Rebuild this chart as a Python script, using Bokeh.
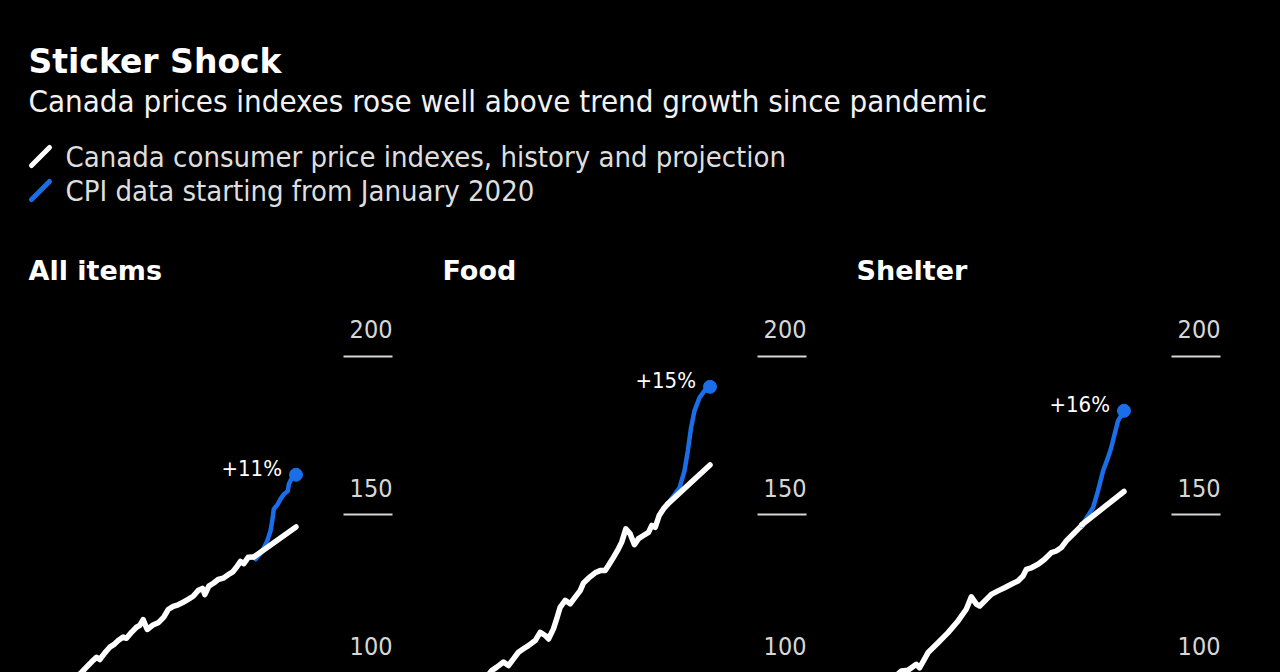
from bokeh.plotting import figure
from bokeh.models import Range1d, Label, FixedTicker
from bokeh.layouts import column, row
from bokeh.embed import file_html
from bokeh.resources import INLINE

# ---------------- data ----------------
TITLE = "Sticker Shock"
SUBTITLE = "Canada prices indexes rose well above trend growth since pandemic"
LEGEND_LABELS = ["Canada consumer price indexes, history and projection",
                 "CPI data starting from January 2020"]
CATEGORIES = ["All items", "Food", "Shelter"]
TICKS = [100, 150, 200]
GAP_LABELS = ["+11%", "+15%", "+16%"]

all_hist_year = [2001.8, 2002.23, 2002.75, 2003.26, 2003.78, 2004.12, 2004.64, 2005.15, 2005.56, 2006.02,
                 2006.53, 2006.87, 2007.39, 2007.90, 2008.24, 2008.59, 2009.01, 2009.55, 2010.14, 2010.72,
                 2011.17, 2011.69, 2012.20, 2012.72, 2013.23, 2013.75, 2014.26, 2014.71, 2014.95, 2015.36,
                 2015.87, 2016.33, 2016.84, 2017.36, 2017.80, 2018.29, 2018.63, 2018.97, 2019.42, 2020.0]
all_hist_val = [99.0, 100.1, 101.8, 103.4, 104.9, 104.2, 106.3, 108.1, 108.9, 110.2,
                111.3, 110.9, 112.8, 114.4, 115.0, 116.8, 113.7, 115.0, 115.8, 117.6,
                120.0, 121.0, 121.5, 122.3, 123.2, 124.2, 126.0, 126.7, 124.7, 127.4,
                128.4, 129.5, 129.9, 131.0, 131.8, 133.7, 135.2, 134.5, 136.5, 136.6]
all_cpi_year = [2020.0, 2020.18, 2020.87, 2021.38, 2021.72, 2021.90, 2022.06, 2022.47, 2022.75,
                2023.09, 2023.51, 2023.61, 2023.86, 2024.35]
all_cpi_val = [136.6, 135.9, 138.5, 141.7, 144.8, 148.0, 151.7, 153.3, 154.9,
               156.4, 157.5, 159.6, 161.2, 162.6]
all_trend_year = [2020.0, 2024.35]
all_trend_val = [136.6, 146.1]

food_hist_year = [2001.5, 2001.85, 2002.37, 2003.06, 2003.57, 2004.09, 2004.60, 2005.12, 2005.63, 2006.33,
                  2006.84, 2007.36, 2007.70, 2008.21, 2008.55, 2008.90, 2009.42, 2009.93, 2010.45, 2010.97,
                  2011.31, 2011.82, 2012.51, 2013.03, 2013.54, 2013.88, 2014.40, 2014.91, 2015.25, 2015.67,
                  2016.12, 2016.56, 2016.98, 2017.49, 2018.01, 2018.35, 2018.70, 2019.11, 2019.55, 2020.0]
food_hist_val = [99.4, 100.7, 101.8, 103.4, 102.3, 104.4, 106.5, 107.6, 108.6, 110.2,
                 112.8, 111.8, 110.7, 113.9, 117.1, 120.7, 122.9, 121.8, 123.9, 126.0,
                 128.4, 129.9, 131.6, 132.3, 132.3, 133.9, 136.5, 139.2, 141.3, 145.5,
                 143.9, 140.5, 142.4, 143.4, 144.4, 146.6, 146.0, 149.7, 151.8, 153.4]
food_cpi_year = [2020.0, 2021.21, 2021.72, 2022.06, 2022.40, 2022.75, 2023.27, 2023.78, 2024.35]
food_cpi_val = [153.4, 158.5, 163.8, 170.1, 177.5, 182.8, 187.0, 189.1, 190.4]
food_trend_year = [2020.0, 2024.35]
food_trend_val = [153.4, 165.7]

shelter_hist_year = [2001.0, 2001.39, 2002.08, 2002.94, 2003.28, 2004.15, 2005.18, 2006.21, 2007.24, 2008.09,
                     2008.61, 2009.13, 2009.47, 2010.16, 2010.67, 2011.36, 2012.04, 2012.73, 2013.42, 2013.94,
                     2014.28, 2014.80, 2015.49, 2016.17, 2016.86, 2017.37, 2017.89, 2018.40, 2019.09, 2019.77,
                     2020.0]
shelter_hist_val = [99.5, 100.6, 100.8, 102.7, 101.6, 106.4, 109.5, 112.7, 116.4, 120.1,
                    124.0, 121.7, 121.1, 123.2, 124.8, 125.9, 126.9, 128.0, 129.0, 130.6,
                    132.7, 133.2, 134.3, 135.9, 138.0, 138.5, 139.6, 141.7, 143.8, 145.9,
                    146.5]
shelter_cpi_year = [2020.0, 2021.16, 2021.67, 2022.19, 2022.70, 2023.04, 2023.38, 2023.73, 2024.35]
shelter_cpi_val = [146.5, 152.2, 157.5, 163.8, 168.0, 171.2, 175.4, 179.6, 182.8]
shelter_trend_year = [2020.0, 2024.35]
shelter_trend_val = [146.8, 157.3]

# ---------------- style ----------------
BG = "#000000"
WHITE = "#ffffff"
BLUE = "#1a6fe8"
GREY = "#d6d6d6"
FONT = "DejaVu Sans Condensed"
BOLD = "DejaVu Sans"
BLACK_STYLE = {"background-color": BG}

X0, X1 = 1996.77, 2034.30
Y0, Y1 = 100.1, 217.67

# ---------------- header ----------------
header = figure(width=1280, height=300, x_range=Range1d(0, 1280), y_range=Range1d(300, 0),
                output_backend="svg", toolbar_location=None,
                x_axis_location=None, y_axis_location=None, min_border=0,
                background_fill_color=BG, border_fill_color=BG, outline_line_color=None,
                styles=BLACK_STYLE)
header.grid.visible = False

header.add_layout(Label(x=28, y=61, text=TITLE, text_font=BOLD, text_font_style="bold",
                        text_font_size="33px", text_color=WHITE, text_baseline="middle"))
header.add_layout(Label(x=28, y=100, text=SUBTITLE, text_font=FONT, text_font_size="31px",
                        text_color="#f2f2f2", text_baseline="middle"))
for i, (lab, col) in enumerate(zip(LEGEND_LABELS, [WHITE, BLUE])):
    yc = 156 + 34 * i
    header.segment(x0=[31], y0=[yc + 9], x1=[49], y1=[yc - 9], line_color=col,
                   line_width=5, line_cap="round")
    header.add_layout(Label(x=65, y=yc, text=lab, text_font=FONT, text_font_size="29px",
                            text_color="#dedede", text_baseline="middle"))
for i, cat in enumerate(CATEGORIES):
    header.add_layout(Label(x=28 + 414 * i, y=270, text=cat, text_font=BOLD, text_font_style="bold",
                            text_font_size="27px", text_color=WHITE, text_baseline="middle"))

# ---------------- panels ----------------
panels_data = [
    (all_hist_year, all_hist_val, all_cpi_year, all_cpi_val, all_trend_year, all_trend_val),
    (food_hist_year, food_hist_val, food_cpi_year, food_cpi_val, food_trend_year, food_trend_val),
    (shelter_hist_year, shelter_hist_val, shelter_cpi_year, shelter_cpi_val, shelter_trend_year, shelter_trend_val),
]

panels = []
for i, (hx, hy, cx, cy, tx, ty) in enumerate(panels_data):
    left = 28 if i == 0 else 0
    right = 60 if i == 2 else 50
    p = figure(width=364 + left + right, height=372,
               x_range=Range1d(X0, X1), y_range=Range1d(Y0, Y1),
               output_backend="svg", toolbar_location=None,
               x_axis_location=None, y_axis_location="right",
               background_fill_color=BG, border_fill_color=BG, outline_line_color=None,
               styles=BLACK_STYLE)
    p.min_border_left = left
    p.min_border_right = right
    p.min_border_top = 0
    p.min_border_bottom = 0
    p.grid.visible = False
    ax = p.yaxis[0]
    ax.ticker = FixedTicker(ticks=TICKS)
    ax.axis_line_color = None
    ax.major_tick_in = 49
    ax.major_tick_out = 0
    ax.major_tick_line_color = GREY
    ax.major_tick_line_width = 2
    ax.minor_tick_line_color = None
    ax.major_label_text_color = None
    ax.major_label_text_font_size = "10px"
    ax.major_label_standoff = 0

    for t in TICKS:
        p.add_layout(Label(x=X1, y=t, text=str(t), text_align="right", text_baseline="middle",
                           y_offset=27, text_font=FONT, text_font_size="25px", text_color=GREY))

    p.line(hx, hy, line_color=WHITE, line_width=5.5, line_join="round", line_cap="round")
    p.line(cx, cy, line_color=BLUE, line_width=4.5, line_join="round", line_cap="round")
    p.line(tx, ty, line_color=WHITE, line_width=5.5, line_cap="round")
    p.scatter([cx[-1]], [cy[-1]], size=13, fill_color=BLUE, line_color=BLUE)
    p.add_layout(Label(x=cx[-1], y=cy[-1], text=GAP_LABELS[i], x_offset=-14, y_offset=6,
                       text_align="right", text_baseline="middle", text_font=FONT,
                       text_font_size="22px", text_color=WHITE))
    panels.append(p)

layout = column(header, row(*panels, spacing=0, styles=BLACK_STYLE), spacing=0, styles=BLACK_STYLE)
open("out.html", "w").write(file_html(layout, INLINE, title="Sticker Shock"))
